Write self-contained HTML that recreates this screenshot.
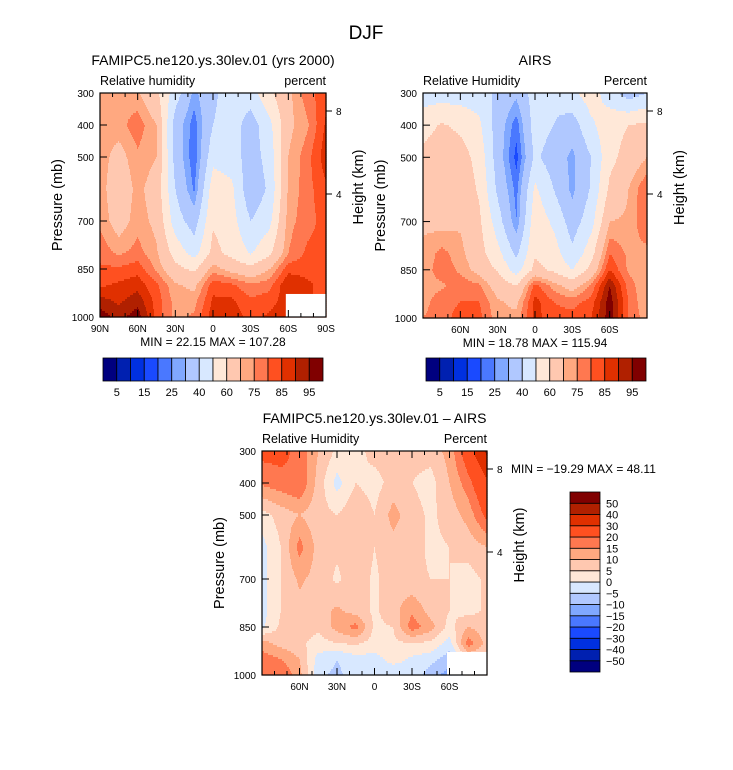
<!DOCTYPE html>
<html><head><meta charset="utf-8"><style>
body{margin:0;background:#fff;}
svg{display:block;font-family:"Liberation Sans",sans-serif;}
</style></head><body>
<svg id="root" width="733" height="770" viewBox="0 0 733 770" xmlns="http://www.w3.org/2000/svg">
<rect x="0" y="0" width="733" height="770" fill="#fff"/>
<text x="366" y="39" font-size="19" text-anchor="middle">DJF</text>
<g id="g1"></g>
<g id="g2"></g>
<g id="g3"></g>
</svg>
<script>
const lats = [90,75,60,45,30,15,0,-15,-30,-45,-60,-75,-90];
const pres = [300,400,500,600,700,800,850,900,950,1000];
const rhLevels = [5,10,15,20,25,30,40,50,60,70,75,80,85,90,95];
const rhTickLabels = ["5","15","25","40","60","75","85","95"];
const diffLevels = [-50,-40,-30,-20,-15,-10,-5,0,5,10,15,20,30,40,50];
const diffTickLabels = ["50","40","30","20","15","10","5","0","-5","-10","-15","-20","-30","-40","-50"];
const pTicks = [300,400,500,700,850,1000];
const latTicksFull = ["90N","60N","30N","0","30S","60S","90S"];
const latTicksInner = ["","60N","30N","0","30S","60S",""];
const heightTicks = [8,4];
const modelRH = [
[73,73,71,62,45,28,38,45,45,58,68,78,83],
[73,73,78,70,35,22,40,45,35,47,68,74,86],
[73,67,74,70,36,21,47,45,35,44,70,78,88],
[73,64,72,66,40,24,56,52,32,42,71,78,84],
[74,66,73,68,45,35,59,54,40,47,73,78,82],
[78,74,77,71,56,46,63,57,49,58,75,81,82],
[81,81,83,74,63,58,73,67,63,70,83,83,83],
[84,86,88,81,71,68,83,81,76,78,90,86,83],
[92,89,93,83,73,73,86,86,81,83,88,86,83],
[98,93,98,83,73,76,88,88,83,86,88,86,83]];
const airsRH = [
[45,45,45,45,38,32,45,42,48,55,45,35,40],
[56,61,58,52,35,22,45,40,35,48,56,60,62],
[63,66,64,57,35,18,42,35,28,40,57,64,70],
[66,67,66,59,38,23,52,40,28,41,62,70,80],
[69,67,69,62,45,25,57,48,35,46,70,71,80],
[71,77,72,64,53,38,59,55,42,56,80,74,73],
[72,78,74,67,59,45,63,58,50,63,85,74,71],
[73,74,78,76,66,60,82,73,66,76,95,78,70],
[73,78,80,80,71,68,87,80,78,82,98,80,70],
[75,78,82,82,72,72,87,82,82,85,98,80,72]];
const diffRH = [
[22,22,18,10,4,3,7,7,7,7,12,25,42],
[16,18,20,8,-2,5,3,7,5,3,10,18,28],
[3,7,10,7,5,9,5,12,7,4,7,12,22],
[-2,5,17,8,6,9,5,8,7,4,5,7,10],
[-2,5,11,8,4,8,4,8,6,5,5,3,6],
[-2,5,8,8,11,8,4,8,14,8,5,3,6],
[-1,6,8,6,12,17,4,5,18,12,3,10,7],
[12,8,6,3,5,6,3,4,5,4,-2,18,8],
[18,15,10,-2,-5,-2,-2,2,-1,-3,-8,5,5],
[18,20,12,-4,-6,-3,-1,-4,-1,-8,-12,5,5]];
const colors = ["#00007f","#0020b0","#0030e0","#1a4aff","#4a78ff","#80a8ff","#b0c8ff","#d8e8ff","#ffe8d8","#ffc8b0","#ffa880","#ff7850","#ff5020","#e03000","#b02000","#800000"];

const NS="http://www.w3.org/2000/svg";
function mk(parent,tag,attrs,text){const e=document.createElementNS(NS,tag);for(const k in attrs)e.setAttribute(k,attrs[k]);if(text!==undefined)e.textContent=text;parent.appendChild(e);return e;}
function levelIndex(v,lv){let i=0;while(i<lv.length&&v>=lv[i])i++;return i;}
function sample(grid,lat,p){
  let fx=(90-lat)/15; fx=Math.max(0,Math.min(lats.length-1.0001,fx));
  const i=Math.floor(fx), tx=fx-i;
  let j=0; while(j<pres.length-2&&p>pres[j+1])j++;
  let ty=(p-pres[j])/(pres[j+1]-pres[j]); ty=Math.max(0,Math.min(1,ty));
  const a=grid[j][i],b=grid[j][i+1],c=grid[j+1][i],d=grid[j+1][i+1];
  return (a*(1-tx)+b*tx)*(1-ty)+(c*(1-tx)+d*tx)*ty;
}
function panel(g,x0,y0,w,h,grid,lv,opts){
  const xs=lat=>x0+(90-lat)/180*w;
  const ys=p=>y0+(p-300)/700*h;
  const cg=mk(g,"g",{});
  
  
  const step=2;
  for(let yy=0;yy<h;yy+=step){
    const p=300+(yy+step/2)/h*700;
    let runStart=0,runIdx=-1;
    for(let xx=0;xx<=w;xx++){
      let idx=-2;
      if(xx<w){const lat=90-(xx+0.5)/w*180;idx=levelIndex(sample(grid,lat,p),lv);}
      if(idx!==runIdx){
        if(runIdx>=0){const r=mk(cg,"rect",{x:x0+runStart,y:y0+yy,width:xx-runStart+0.6,height:Math.min(step,h-yy)+0.6,fill:colors[runIdx]});
          
          }
        runStart=xx;runIdx=idx;
      }
    }
  }
  if(opts.missing){const m=mk(g,"rect",{x:xs(opts.missing[0]),y:ys(opts.missing[1]),width:x0+w-xs(opts.missing[0]),height:y0+h-ys(opts.missing[1]),fill:"#fff"});
    
    }
  const fr=mk(g,"rect",{x:x0,y:y0,width:w,height:h,fill:"none",stroke:"#000","stroke-width":1.2});
  
  
  for(let lat=90;lat>=-90;lat-=10){
    const major=lat%30===0, x=xs(lat), L=major?7:4;
    mk(g,"line",{x1:x,y1:y0+h,x2:x,y2:y0+h-L,stroke:"#000"});
    mk(g,"line",{x1:x,y1:y0,x2:x,y2:y0+L,stroke:"#000"});
  }
  opts.latLabels.forEach((t,k)=>{if(!t)return;const tx=mk(g,"text",{x:xs(90-30*k),y:y0+h+15,"font-size":10,"text-anchor":"middle"},t);
    
    });
  pTicks.forEach(p=>{const y=ys(p);mk(g,"line",{x1:x0,y1:y,x2:x0+7,y2:y,stroke:"#000"});
    const tx=mk(g,"text",{x:x0-6,y:y+4,"font-size":10,"text-anchor":"end"},String(p));
    
    });
  heightTicks.forEach(hk=>{const y=hk===8?y0+18:y0+101;mk(g,"line",{x1:x0+w,y1:y,x2:x0+w+6,y2:y,stroke:"#000"});
    const tx=mk(g,"text",{x:x0+w+10,y:y+4,"font-size":10},String(hk));
    
    });
  const t1=mk(g,"text",{x:x0+w/2,y:y0-28,"font-size":14,"text-anchor":"middle"},opts.title);
  
  
  const t2=mk(g,"text",{x:x0,y:y0-8,"font-size":12.5},opts.left);
  
  
  const t3=mk(g,"text",{x:x0+w,y:y0-8,"font-size":12.5,"text-anchor":"end"},opts.right);
  
  
  const t4=mk(g,"text",{x:x0-38,y:y0+h/2,"font-size":14.5,"text-anchor":"middle",transform:`rotate(-90 ${x0-38} ${y0+h/2})`},"Pressure (mb)");
  
  
  const t5=mk(g,"text",{x:x0+w+37,y:y0+h/2-18,"font-size":14.5,"text-anchor":"middle",transform:`rotate(-90 ${x0+w+37} ${y0+h/2-18})`},"Height (km)");
  
  
  if(opts.minmax){const t6=mk(g,"text",{x:x0+w/2,y:y0+h+29,"font-size":12,"text-anchor":"middle","xml:space":"preserve"},opts.minmax);
    
    }
}
function hbar(g,x0,y0,w,h){
  const cw=w/colors.length;
  colors.forEach((c,k)=>{const r=mk(g,"rect",{x:x0+k*cw,y:y0,width:cw,height:h,fill:c,stroke:"#000","stroke-width":0.8});
    
    });
  rhTickLabels.forEach((t,k)=>{const tx=mk(g,"text",{x:x0+(1+2*k)*cw,y:y0+h+15,"font-size":11,"text-anchor":"middle"},t);
    
    });
}
const g1=document.getElementById('g1'),g2=document.getElementById('g2'),g3=document.getElementById('g3');
panel(g1,100,93,226,224,modelRH,rhLevels,{title:"FAMIPC5.ne120.ys.30lev.01 (yrs 2000)",left:"Relative humidity",right:"percent",latLabels:latTicksFull,minmax:"MIN =   22.15   MAX = 107.28",missing:[-58,928]});
hbar(g1,103,358,220,23);
panel(g2,423,93,224,225,airsRH,rhLevels,{title:"AIRS",left:"Relative Humidity",right:"Percent",latLabels:latTicksInner,minmax:"MIN =   18.78   MAX = 115.94"});
hbar(g2,426,358,220,23);
panel(g3,262,451,225,224,diffRH,diffLevels,{title:"FAMIPC5.ne120.ys.30lev.01 \u2013 AIRS",left:"Relative Humidity",right:"Percent",latLabels:latTicksInner,missing:[-58,928]});
const mm=mk(g3,"text",{x:511,y:473,"font-size":12,"xml:space":"preserve"},"MIN = \u221219.29   MAX =  48.11");


const vb=mk(g3,"g",{});


const bh=180/colors.length;
colors.forEach((c,k)=>{const r=mk(vb,"rect",{x:570,y:672-(k+1)*bh,width:30,height:bh,fill:c,stroke:"#000","stroke-width":0.8});
  
  });
diffTickLabels.forEach((t,k)=>{const tx=mk(vb,"text",{x:606,y:492+(k+1)*bh+4,"font-size":11},t.replace('-','\u2212'));
  
  });
</script>
</body></html>
